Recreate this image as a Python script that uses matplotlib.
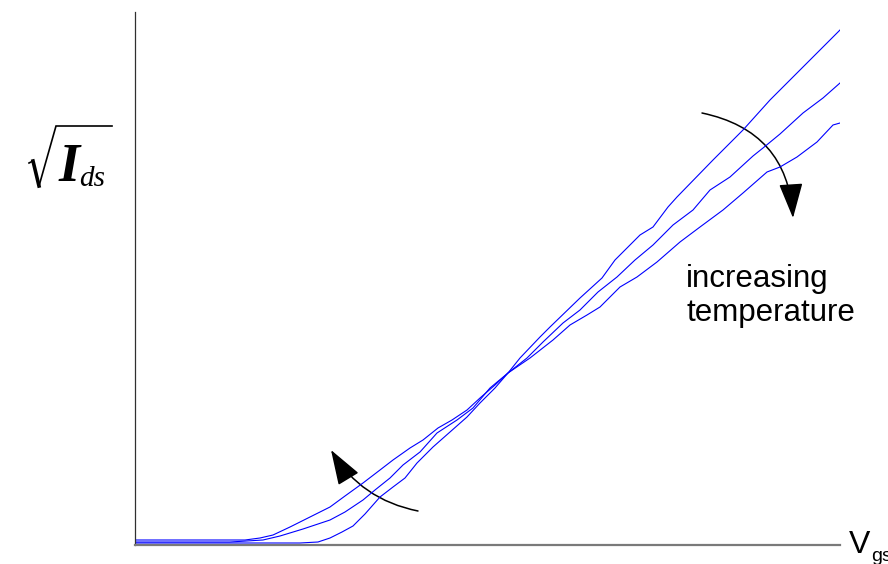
import matplotlib
matplotlib.use("Agg")
import matplotlib.pyplot as plt
from matplotlib.patches import FancyArrowPatch
from matplotlib.lines import Line2D

# sqrt(Ids) vs Vgs at three temperatures (cold -> hot)
vgs_cold = [0.00, 1.65, 1.83, 1.95, 2.07, 2.18, 2.30, 2.45, 2.58, 2.70, 2.82, 2.98,
            3.15, 3.32, 3.45, 3.60, 3.73, 3.85, 4.05, 4.15, 4.45, 4.67, 4.80, 5.05,
            5.18, 5.33, 5.42, 5.78, 5.95, 6.08, 6.35, 6.45, 6.55, 6.72, 7.05]
ids_cold = [0.02, 0.02, 0.03, 0.07, 0.13, 0.19, 0.31, 0.48, 0.58, 0.67, 0.82, 0.98,
            1.13, 1.28, 1.42, 1.57, 1.72, 1.87, 2.08, 2.18, 2.47, 2.67, 2.85, 3.10,
            3.18, 3.38, 3.48, 3.85, 4.02, 4.15, 4.45, 4.55, 4.65, 4.82, 5.15]

vgs_mid = [0.00, 0.95, 1.28, 1.45, 1.68, 1.83, 1.95, 2.10, 2.28, 2.40, 2.55, 2.68,
           2.85, 3.02, 3.22, 3.38, 3.55, 3.73, 3.92, 4.08, 4.28, 4.45, 4.63, 4.82,
           5.00, 5.18, 5.38, 5.58, 5.75, 5.95, 6.18, 6.28, 6.45, 6.68, 6.88, 7.05]
ids_mid = [0.03, 0.03, 0.05, 0.09, 0.16, 0.21, 0.25, 0.33, 0.45, 0.55, 0.67, 0.80,
           0.93, 1.12, 1.25, 1.37, 1.57, 1.72, 1.87, 2.03, 2.22, 2.35, 2.53, 2.68,
           2.85, 3.00, 3.20, 3.35, 3.55, 3.68, 3.89, 3.97, 4.11, 4.32, 4.47, 4.62]

vgs_hot = [0.00, 1.10, 1.25, 1.38, 1.55, 1.75, 1.95, 2.10, 2.28, 2.45, 2.58, 2.75,
           2.88, 3.03, 3.17, 3.32, 3.45, 3.60, 3.73, 3.95, 4.18, 4.35, 4.52, 4.65,
           4.85, 5.02, 5.22, 5.45, 5.65, 5.88, 6.08, 6.32, 6.45, 6.62, 6.82, 6.98, 7.05]
ids_hot = [0.05, 0.05, 0.07, 0.10, 0.18, 0.28, 0.38, 0.49, 0.62, 0.75, 0.85, 0.97,
           1.05, 1.17, 1.25, 1.35, 1.47, 1.60, 1.72, 1.87, 2.05, 2.20, 2.30, 2.38,
           2.58, 2.68, 2.83, 3.03, 3.18, 3.35, 3.52, 3.73, 3.78, 3.88, 4.03, 4.20, 4.22]

W, H = 888, 564
fig = plt.figure(figsize=(W / 100, H / 100), dpi=100)
ax = fig.add_axes([135 / W, 19 / H, 705 / W, 533 / H])

for v, i in [(vgs_cold, ids_cold), (vgs_mid, ids_mid), (vgs_hot, ids_hot)]:
    ax.plot(v, i, color="#0000ff", lw=0.8, solid_joinstyle="round")

ax.set_xlim(0, 7.05)
ax.set_ylim(0, 5.33)
ax.set_xticks([])
ax.set_yticks([])
for s in ["top", "right"]:
    ax.spines[s].set_visible(False)
ax.spines["left"].set_color("#303030")
ax.spines["left"].set_linewidth(0.9)
ax.spines["bottom"].set_color("#7a7a7a")
ax.spines["bottom"].set_linewidth(1.6)

# curved arrows showing the temperature trend
arr_kw = dict(arrowstyle="-|>,head_length=22,head_width=7.5", mutation_scale=1,
              color="black", lw=1.1, shrinkA=0, shrinkB=0)
ax.add_patch(FancyArrowPatch((5.67, 4.32), (6.58, 3.27),
                             connectionstyle="arc3,rad=-0.38", **arr_kw))
ax.add_patch(FancyArrowPatch((2.83, 0.34), (1.96, 0.95),
                             connectionstyle="arc3,rad=-0.22", **arr_kw))

sans = "Liberation Sans"
ax.text(5.51, 2.58, "increasing", fontsize=22.5, family=sans, va="baseline", ha="left")
ax.text(5.51, 2.24, "temperature", fontsize=22.5, family=sans, va="baseline", ha="left")

# V_gs label at the end of the x axis
fig.text(849 / W, 1 - 553 / H, "V", fontsize=23, family=sans, va="baseline")
fig.text(871 / W, 1 - 561 / H, "gs", fontsize=14, family=sans, va="baseline")

# sqrt(I_ds) label: radical sign drawn as a line, then the symbol
rx = [29, 33, 39, 56, 112]
ry = [163, 161, 186, 126, 126]
fig.add_artist(Line2D([x / W for x in rx], [1 - y / H for y in ry],
                      transform=fig.transFigure, color="black", lw=1.2,
                      solid_joinstyle="miter"))
fig.add_artist(Line2D([33 / W, 39 / W], [1 - 161 / H, 1 - 186 / H],
                      transform=fig.transFigure, color="black", lw=2.6))
fig.text(59 / W, 1 - 181 / H, "I", fontsize=39, family="Liberation Serif",
         style="italic", weight="bold", va="baseline")
fig.text(79 / W, 1 - 186 / H, "ds", fontsize=21, family="Liberation Serif",
         style="italic", va="baseline")

fig.savefig("out.png", dpi=100)
